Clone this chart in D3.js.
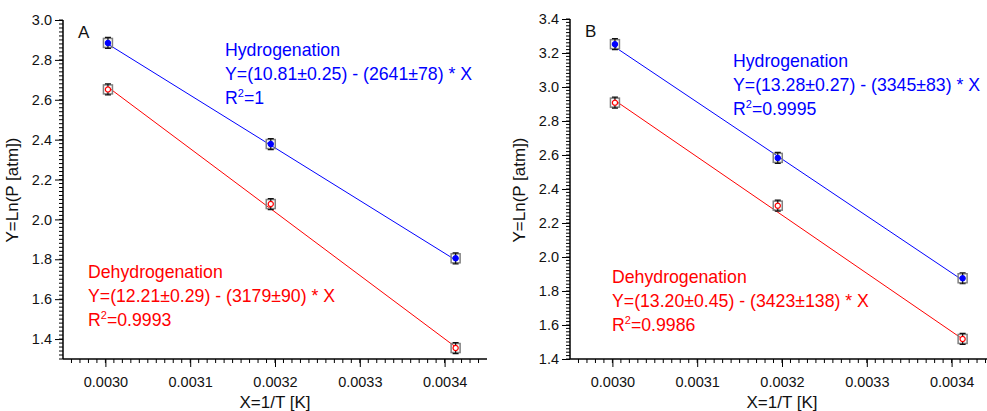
<!DOCTYPE html>
<html>
<head>
<meta charset="utf-8">
<script src="https://cdn.jsdelivr.net/npm/d3@7"></script>
<style>
  body { margin: 0; background: #fff; }
  svg { display: block; font-family: "Liberation Sans", Arial, sans-serif; }
</style>
</head>
<body>
<script>
// temperatures 333, 313, 293 K -> X = 1/T
const xValues = [0.003003, 0.003195, 0.003413];

const hydroA = [2.885, 2.378, 1.805];
const dehydroA = [2.652, 2.077, 1.355];
const hydroB = [3.252, 2.583, 1.875];
const dehydroB = [2.908, 2.302, 1.518];

// fit coefficients: Y = a - b * X
const fitHydroA = [10.81, 2641];
const fitDehydroA = [12.21, 3179];
const fitHydroB = [13.28, 3345];
const fitDehydroB = [13.20, 3423];

const xTicks = [0.0030, 0.0031, 0.0032, 0.0033, 0.0034];
const yTicksA = [1.4, 1.6, 1.8, 2.0, 2.2, 2.4, 2.6, 2.8, 3.0];
const yTicksB = [1.4, 1.6, 1.8, 2.0, 2.2, 2.4, 2.6, 2.8, 3.0, 3.2, 3.4];

const svg = d3.select('body').append('svg')
  .attr('width', 987)
  .attr('height', 411);

function drawPanel(p) {
  const x = d3.scaleLinear().domain([0.00295, 0.00345]).range([p.left, p.left + 424]);
  const y = d3.scaleLinear().domain(p.yDomain).range([359, p.top]);
  const g = svg.append('g');

  // minor ticks
  const xMinor = d3.range(0.00296, 0.00345, 0.00001);
  g.selectAll('.xminor').data(xMinor).join('line')
    .attr('x1', d => x(d)).attr('x2', d => x(d))
    .attr('y1', 359).attr('y2', 363)
    .attr('stroke', '#000');
  const yMinor = d3.range(p.yDomain[0], p.yDomain[1] + 0.001, 0.02);
  g.selectAll('.yminor').data(yMinor).join('line')
    .attr('x1', p.left - 4).attr('x2', p.left)
    .attr('y1', d => y(d)).attr('y2', d => y(d))
    .attr('stroke', '#000');

  const xAxis = g.append('g')
    .attr('transform', 'translate(0,359)')
    .call(d3.axisBottom(x).tickValues(xTicks).tickFormat(d3.format('.4f')).tickSize(8).tickPadding(10));
  xAxis.select('.domain').attr('stroke-width', 1.5).attr('d', 'M' + p.left + ',0H' + (p.left + 424));
  xAxis.selectAll('text').attr('font-size', 14.5).attr('fill', '#111').attr('font-family', '"Liberation Sans", Arial, sans-serif');

  const yAxis = g.append('g')
    .attr('transform', 'translate(' + p.left + ',0)')
    .call(d3.axisLeft(y).tickValues(p.yTicks).tickFormat(d3.format('.1f')).tickSize(8).tickPadding(3));
  yAxis.select('.domain').attr('stroke-width', 1.5).attr('d', 'M0,' + p.top + 'V359');
  yAxis.selectAll('text').attr('font-size', 14.5).attr('fill', '#111').attr('font-family', '"Liberation Sans", Arial, sans-serif');

  // axis titles
  g.append('text')
    .attr('x', p.left + 212).attr('y', 408)
    .attr('text-anchor', 'middle').attr('font-size', 17).attr('fill', '#111')
    .text('X=1/T [K]');
  g.append('text')
    .attr('transform', 'translate(' + (p.left - 45) + ',190) rotate(-90)')
    .attr('text-anchor', 'middle').attr('font-size', 17).attr('fill', '#111')
    .text('Y=Ln(P [atm])');

  g.append('text')
    .attr('x', p.left + 15).attr('y', p.top + 18)
    .attr('font-size', 17).attr('fill', '#111')
    .text(p.label);

  // fit lines and points
  p.series.forEach(s => {
    const xs = [xValues[0], xValues[xValues.length - 1]];
    g.append('line')
      .attr('x1', x(xs[0])).attr('y1', y(s.fit[0] - s.fit[1] * xs[0]))
      .attr('x2', x(xs[1])).attr('y2', y(s.fit[0] - s.fit[1] * xs[1]))
      .attr('stroke', s.color).attr('stroke-width', 1);

    const pts = g.selectAll(null).data(xValues.map((v, i) => [v, s.values[i]])).join('g')
      .attr('transform', d => 'translate(' + x(d[0]) + ',' + y(d[1]) + ')');
    pts.append('rect')
      .attr('x', -4.5).attr('y', -4.5).attr('width', 9).attr('height', 9)
      .attr('fill', 'none').attr('stroke', '#808080').attr('stroke-width', 1.5);
    pts.append('path')
      .attr('d', 'M-3,-5.5H3M0,-5.5V5.5M-3,5.5H3')
      .attr('stroke', '#111').attr('stroke-width', 1.2).attr('fill', 'none');
    pts.append('circle')
      .attr('r', 2.6)
      .attr('fill', s.filled ? s.color : '#fff')
      .attr('stroke', s.color).attr('stroke-width', 1.2);

    const t = g.append('text')
      .attr('font-size', 17.7).attr('fill', s.color);
    t.append('tspan').attr('x', s.tx).attr('y', s.ty).text(s.name);
    t.append('tspan').attr('x', s.tx).attr('y', s.ty + 24).text(s.eq);
    const r = t.append('tspan').attr('x', s.tx).attr('y', s.ty + 48);
    r.text('R');
    t.append('tspan').attr('font-size', 11).attr('dy', -7).text('2');
    t.append('tspan').attr('dy', 7).text('=' + s.r2);
  });
}

drawPanel({
  left: 63, top: 20, yDomain: [1.3, 3.0], yTicks: yTicksA, label: 'A',
  series: [
    { name: 'Hydrogenation', eq: 'Y=(10.81±0.25) - (2641±78) * X', r2: '1',
      values: hydroA, fit: fitHydroA, color: '#0000ff', filled: true, tx: 225, ty: 56 },
    { name: 'Dehydrogenation', eq: 'Y=(12.21±0.29) - (3179±90) * X', r2: '0.9993',
      values: dehydroA, fit: fitDehydroA, color: '#ff0000', filled: false, tx: 88, ty: 278 }
  ]
});

drawPanel({
  left: 570, top: 19, yDomain: [1.4, 3.4], yTicks: yTicksB, label: 'B',
  series: [
    { name: 'Hydrogenation', eq: 'Y=(13.28±0.27) - (3345±83) * X', r2: '0.9995',
      values: hydroB, fit: fitHydroB, color: '#0000ff', filled: true, tx: 733, ty: 67 },
    { name: 'Dehydrogenation', eq: 'Y=(13.20±0.45) - (3423±138) * X', r2: '0.9986',
      values: dehydroB, fit: fitDehydroB, color: '#ff0000', filled: false, tx: 612, ty: 283 }
  ]
});
</script>
</body>
</html>
